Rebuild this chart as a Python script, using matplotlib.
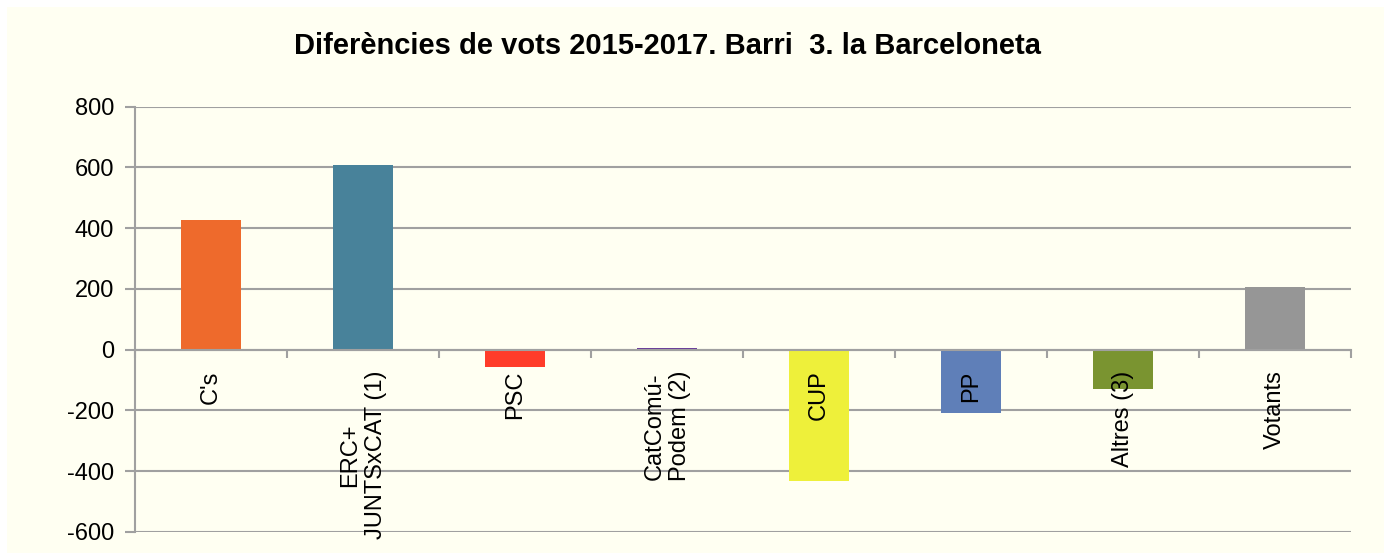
import matplotlib
matplotlib.use("Agg")
import matplotlib.pyplot as plt
from matplotlib.patches import Rectangle
import numpy as np

categories = ["C's", "ERC+\nJUNTSxCAT (1)", "PSC", "CatComú-\nPodem (2)",
              "CUP", "PP", "Altres (3)", "Votants"]
diffs = [426, 607, -58, 5, -432, -207, -129, 205]
bar_colors = ["#EE6A2C", "#48829A", "#FF3C2A", "#6A3D9A",
              "#EEF03A", "#5F7FB8", "#7A9430", "#969696"]
y_ticks = [-600, -400, -200, 0, 200, 400, 600, 800]
title = "Diferències de vots 2015-2017. Barri  3. la Barceloneta"

if __name__ == '__main__':
    plt.rcParams['font.family'] = ['Liberation Sans', 'DejaVu Sans']
    bg = "#FFFFF2"
    grid_c = "#A0A0A0"

    fig = plt.figure(figsize=(13.88, 5.53), dpi=100)
    fig.patch.set_facecolor("white")
    fig.patches.append(Rectangle((7 / 1388, 0), 1377 / 1388, 546 / 553,
                                 transform=fig.transFigure, facecolor=bg,
                                 edgecolor="none", zorder=-5))

    ax = fig.add_axes([135 / 1388, 1 - 532 / 553, 1216 / 1388, (532 - 106.7) / 553])
    ax.set_facecolor(bg)

    x = np.arange(len(categories))
    ax.bar(x, diffs, width=0.4, color=bar_colors, zorder=3)

    ax.set_ylim(-600, 800)
    ax.set_xlim(-0.5, len(categories) - 0.5)
    ax.set_yticks(y_ticks)
    ax.set_yticklabels([str(v) for v in y_ticks], fontsize=17)
    ax.yaxis.grid(True, color=grid_c, linewidth=1.5)
    ax.yaxis.set_zorder(1)
    ax.tick_params(axis="y", length=7, width=1.5, color=grid_c, pad=8)

    # x axis sits on zero, ticks between categories, labels at centres
    ax.spines['bottom'].set_position(('data', 0))
    ax.spines['bottom'].set_color(grid_c)
    ax.spines['bottom'].set_linewidth(1.5)
    ax.spines['bottom'].set_zorder(4)
    ax.spines['left'].set_color(grid_c)
    ax.spines['left'].set_linewidth(1.5)
    ax.spines['top'].set_visible(False)
    ax.spines['right'].set_visible(False)

    ax.set_xticks(np.arange(len(categories) + 1) - 0.5)
    ax.set_xticklabels([])
    ax.tick_params(axis="x", which="major", length=6, width=1.5, color=grid_c, direction="out")
    ax.set_xticks(x, minor=True)
    ax.set_xticklabels(categories, minor=True, rotation=90, fontsize=17,
                       va="top", ha="center", multialignment="center")
    ax.tick_params(axis="x", which="minor", length=0, pad=15)
    ax.xaxis.set_zorder(5)

    fig.text(668 / 1388, 1 - 46 / 553, title, ha="center", va="center",
             fontsize=21, fontweight="bold")

    fig.savefig("out.png", dpi=100, facecolor=fig.get_facecolor())
